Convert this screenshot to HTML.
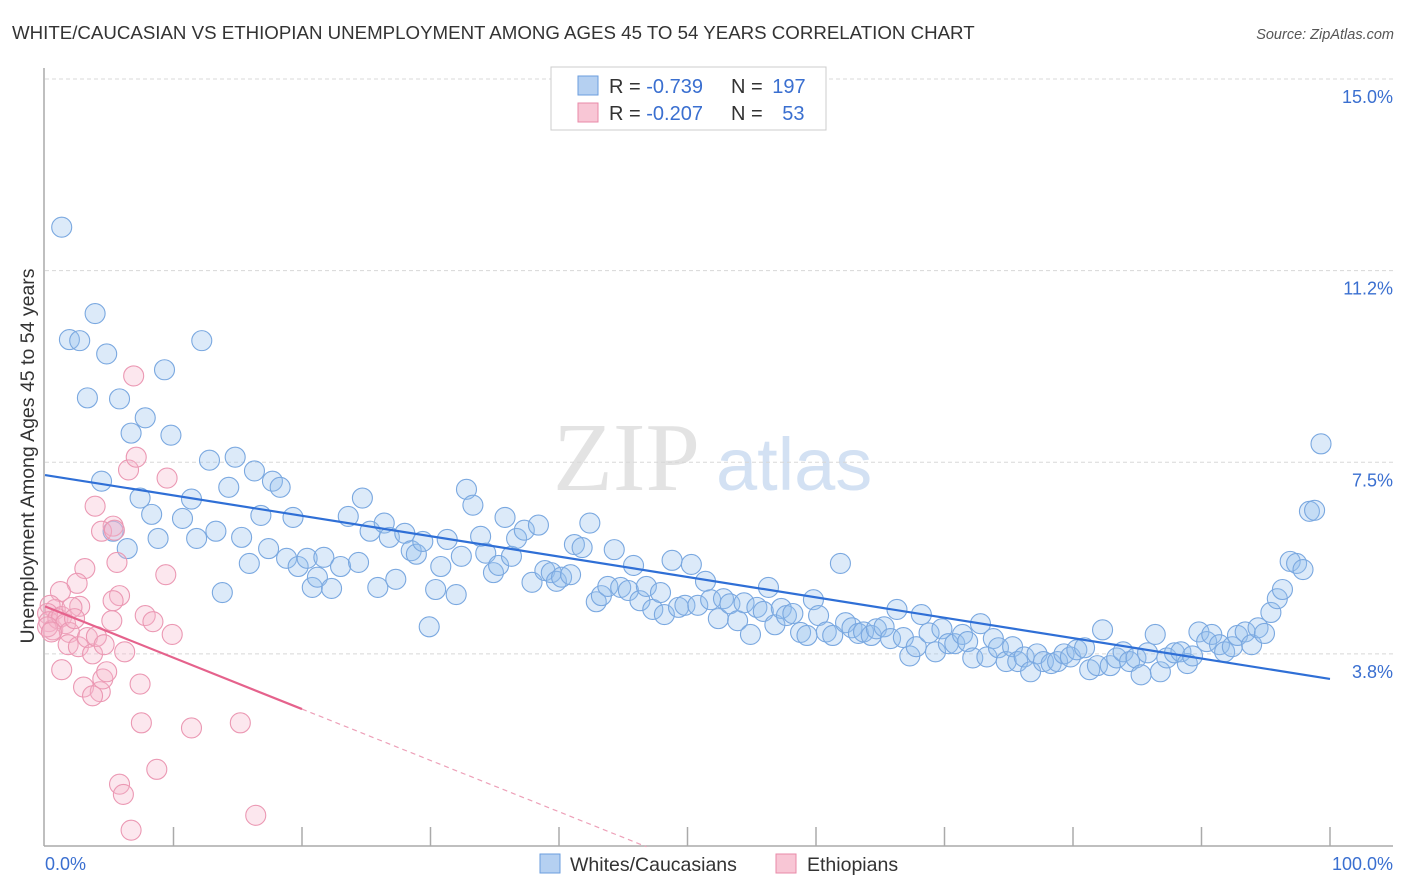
<!DOCTYPE html>
<html><head><meta charset="utf-8"><style>
body{margin:0;background:#fff;font-family:"Liberation Sans",sans-serif}
svg{display:block}
</style></head><body>
<svg id="chart" width="1406" height="892" viewBox="0 0 1406 892">
<text x="12" y="39" font-size="18.7" fill="#333">WHITE/CAUCASIAN VS ETHIOPIAN UNEMPLOYMENT AMONG AGES 45 TO 54 YEARS CORRELATION CHART</text>
<text x="1394" y="39" font-size="14.5" fill="#555" font-style="italic" text-anchor="end">Source: ZipAtlas.com</text>
<g>
<text x="553" y="490" font-size="98" fill="#e3e3e3" font-family="Liberation Serif,serif">ZIP</text>
<text x="716" y="490" font-size="74" fill="#d3e1f3">atlas</text>
</g>
<g id="grid"></g>
<g id="axes"></g>
<g id="pts"></g>
<g id="trends"></g>
<text transform="translate(34,456) rotate(-90)" font-size="19.5" fill="#333" text-anchor="middle">Unemployment Among Ages 45 to 54 years</text>
<g>
<rect x="551" y="67" width="275" height="63" fill="#fff" stroke="#ccc"/>
<rect x="578" y="76" width="20" height="19" fill="#b5d0f1" stroke="#6b9ede"/>
<rect x="578" y="103" width="20" height="19" fill="#f8c6d5" stroke="#e98aa8"/>
<text x="609" y="93" font-size="20" fill="#333">R = <tspan fill="#3a6fd0">-0.739</tspan></text>
<text x="731" y="93" font-size="20" fill="#333">N = <tspan fill="#3a6fd0" dx="4">197</tspan></text>
<text x="609" y="120" font-size="20" fill="#333">R = <tspan fill="#3a6fd0">-0.207</tspan></text>
<text x="731" y="120" font-size="20" fill="#333">N = <tspan fill="#3a6fd0" dx="14">53</tspan></text>
</g>
<g>
<rect x="540" y="854" width="20" height="19" fill="#b5d0f1" stroke="#6b9ede"/>
<text x="570" y="871" font-size="19.5" fill="#333">Whites/Caucasians</text>
<rect x="776" y="854" width="20" height="19" fill="#f8c6d5" stroke="#e98aa8"/>
<text x="807" y="871" font-size="19.5" fill="#333">Ethiopians</text>
</g>
</svg>
<script>
const yTicks=[3.75,7.5,11.25,15];
const yTickLabels=["3.8%","7.5%","11.2%","15.0%"];
const xTicks=[0,10,20,30,40,50,60,70,80,90,100];
const xEndLabels=["0.0%","100.0%"];
const whiteX=[1.3,1.9,2.7,3.9,4.8,3.3,5.8,12.2,9.3,7.8,6.7,9.8,4.4,7.4,8.3,8.8,6.4,5.3,10.7,11.4,12.8,14.3,14.8,16.3,17.7,18.3,13.3,11.8,13.8,15.3,16.8,15.9,17.4,19.3,18.8,19.7,20.4,20.8,21.2,21.7,22.3,23.0,23.6,24.4,24.7,25.3,25.9,26.4,26.8,27.3,28.0,28.5,28.9,29.4,29.9,30.4,30.8,31.3,32.0,32.4,32.8,33.3,33.9,34.3,34.9,35.3,35.8,36.3,36.7,37.3,37.9,38.4,38.9,39.4,39.8,40.2,40.9,41.2,41.8,42.4,42.9,43.3,43.8,44.3,44.8,45.4,45.8,46.3,46.8,47.3,47.9,48.2,48.8,49.3,49.8,50.3,50.8,51.4,51.8,52.4,52.8,53.3,53.9,54.4,54.9,55.4,55.9,56.3,56.8,57.3,57.7,58.2,58.8,59.3,59.8,60.2,60.8,61.3,61.9,62.3,62.8,63.3,63.7,64.3,64.7,65.3,65.8,66.3,66.8,67.3,67.8,68.2,68.8,69.3,69.8,70.3,70.8,71.4,71.8,72.2,72.8,73.3,73.8,74.2,74.8,75.3,75.7,76.2,76.7,77.2,77.7,78.3,78.8,79.3,79.8,80.3,80.9,81.3,81.9,82.3,82.9,83.4,83.9,84.4,84.9,85.3,85.8,86.4,86.8,87.3,87.9,88.4,88.9,89.3,89.8,90.4,90.8,91.4,91.8,92.4,92.8,93.4,93.9,94.4,94.9,95.4,95.9,96.3,96.9,97.4,97.9,98.4,98.8,99.3];
const whiteY=[12.10,9.90,9.88,10.41,9.62,8.76,8.74,9.88,9.31,8.37,8.07,8.03,7.13,6.80,6.48,6.01,5.81,6.15,6.40,6.78,7.54,7.01,7.60,7.33,7.13,7.01,6.15,6.01,4.95,6.03,6.46,5.52,5.81,6.42,5.62,5.46,5.62,5.05,5.25,5.64,5.03,5.46,6.44,5.54,6.80,6.15,5.05,6.31,6.03,5.21,6.11,5.77,5.70,5.95,4.28,5.01,5.46,5.99,4.91,5.66,6.97,6.66,6.05,5.72,5.34,5.48,6.42,5.66,6.01,6.17,5.15,6.27,5.38,5.34,5.17,5.25,5.30,5.89,5.83,6.31,4.77,4.89,5.07,5.79,5.05,4.99,5.48,4.79,5.07,4.62,4.95,4.52,5.58,4.66,4.70,5.50,4.70,5.17,4.81,4.44,4.83,4.73,4.40,4.75,4.13,4.66,4.58,5.05,4.32,4.64,4.50,4.54,4.17,4.11,4.81,4.50,4.18,4.11,5.52,4.36,4.26,4.15,4.18,4.11,4.24,4.28,4.05,4.62,4.07,3.71,3.89,4.52,4.16,3.79,4.24,3.95,3.95,4.13,3.99,3.67,4.34,3.69,4.05,3.87,3.60,3.89,3.60,3.69,3.40,3.75,3.60,3.56,3.60,3.75,3.69,3.83,3.87,3.44,3.52,4.22,3.52,3.67,3.79,3.60,3.67,3.34,3.77,4.13,3.40,3.67,3.77,3.79,3.56,3.71,4.18,3.99,4.13,3.93,3.79,3.89,4.11,4.18,3.93,4.26,4.15,4.56,4.83,5.01,5.56,5.52,5.40,6.54,6.56,7.86];
const ethX=[6.9,6.5,9.5,7.1,3.9,5.3,4.4,5.4,5.6,3.1,2.5,1.2,0.8,0.4,0.2,0.3,0.6,1.0,1.3,1.6,1.9,2.7,2.1,2.3,1.8,2.6,3.3,3.7,4.0,4.6,6.2,5.8,5.3,5.2,7.8,8.4,9.9,9.4,1.3,3.0,4.3,3.7,4.5,4.8,7.4,7.5,11.4,15.2,5.8,6.1,8.7,6.7,16.4,0.2,0.5];
const ethY=[9.19,7.35,7.19,7.60,6.64,6.25,6.15,6.17,5.54,5.42,5.13,4.97,4.62,4.70,4.54,4.38,4.22,4.44,4.48,4.34,4.17,4.68,4.66,4.44,3.93,3.89,4.07,3.75,4.09,3.93,3.79,4.89,4.79,4.40,4.50,4.38,4.13,5.30,3.44,3.10,3.01,2.93,3.26,3.40,3.16,2.40,2.30,2.40,1.20,1.00,1.49,0.30,0.59,4.28,4.18];
const whiteTrend=[7.25,3.26];
const ethTrend=[4.68,2.67];
const ethTrendSolidEnd=20;
const ethTrendDashEnd=46.8;

const NS="http://www.w3.org/2000/svg";
const X0=45,X1=1330,YT=79,YB=845.5,VMAX=15,VMIN=0;
function xs(v){return X0+(v/100)*(X1-X0);}
function ys(v){return YT+(VMAX-v)/(VMAX-VMIN)*(YB-YT);}
function mk(tag,attrs,parent){const e=document.createElementNS(NS,tag);for(const k in attrs)e.setAttribute(k,attrs[k]);parent.appendChild(e);return e;}
const grid=document.getElementById('grid'),axes=document.getElementById('axes'),pts=document.getElementById('pts'),tr=document.getElementById('trends');
yTicks.forEach((t,i)=>{
  const l=mk('line',{x1:45,x2:1393,y1:ys(t),y2:ys(t),stroke:'#d8d8d8','stroke-dasharray':'4,3'},grid);
  
  
  const tx=mk('text',{x:1393,y:ys(t)+24,'font-size':'18',fill:'#3a6fd0','text-anchor':'end'},grid);
  tx.textContent=yTickLabels[i];
  
  
});
let ax=mk('line',{x1:44,x2:44,y1:68,y2:846,stroke:'#aaa','stroke-width':'1.5'},axes);


ax=mk('line',{x1:44,x2:1393,y1:846,y2:846,stroke:'#aaa','stroke-width':'1.5'},axes);


xTicks.forEach(t=>{
  if(t===0)return;
  const l=mk('line',{x1:xs(t),x2:xs(t),y1:827,y2:846,stroke:'#aaa','stroke-width':'1.5'},axes);
  
  
});
let xl=mk('text',{x:45,y:870,'font-size':'18',fill:'#3a6fd0'},axes);
xl.textContent=xEndLabels[0];


xl=mk('text',{x:1393,y:870,'font-size':'18',fill:'#3a6fd0','text-anchor':'end'},axes);
xl.textContent=xEndLabels[1];


whiteX.forEach((x,i)=>{
  const c=mk('circle',{cx:xs(x),cy:ys(whiteY[i]),r:10,fill:'rgba(150,190,238,0.33)',stroke:'#7aa8e0','stroke-width':'1.1'},pts);
  
  
});
ethX.forEach((x,i)=>{
  const c=mk('circle',{cx:xs(x),cy:ys(ethY[i]),r:10,fill:'rgba(247,182,203,0.33)',stroke:'#eb98b3','stroke-width':'1.1'},pts);
  
  
});
let t1=mk('line',{x1:xs(0),y1:ys(whiteTrend[0]),x2:xs(100),y2:ys(whiteTrend[1]),stroke:'#2f6fd6','stroke-width':'2.2'},tr);


const slope=(ethTrend[1]-ethTrend[0])/ethTrendSolidEnd;
let t2=mk('line',{x1:xs(0),y1:ys(ethTrend[0]),x2:xs(ethTrendSolidEnd),y2:ys(ethTrend[1]),stroke:'#e5628c','stroke-width':'2.2'},tr);


let t3=mk('line',{x1:xs(ethTrendSolidEnd),y1:ys(ethTrend[1]),x2:xs(ethTrendDashEnd),y2:ys(ethTrend[0]+slope*ethTrendDashEnd),stroke:'#eda0b8','stroke-width':'1.2','stroke-dasharray':'5,4'},tr);


</script>
</body></html>
